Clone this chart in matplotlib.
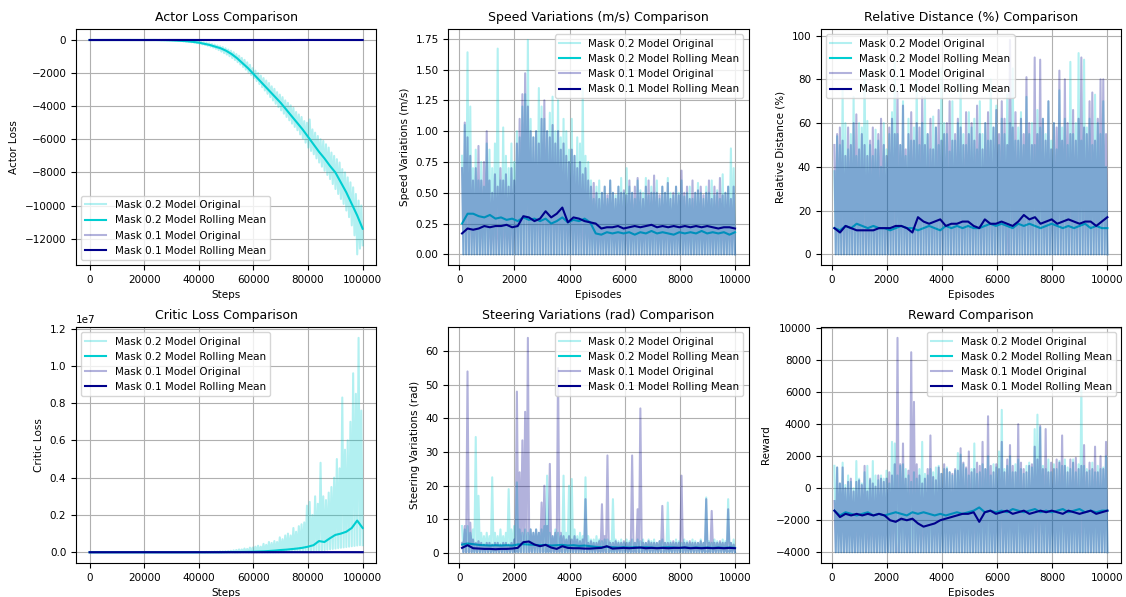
import numpy as np
import matplotlib
matplotlib.use("Agg")
import matplotlib.pyplot as plt

# colours / labels
c02 = "darkturquoise"
c01 = "darkblue"
labels = ["Mask 0.2 Model Original", "Mask 0.2 Model Rolling Mean",
          "Mask 0.1 Model Original", "Mask 0.1 Model Rolling Mean"]

# ---------------- actor loss (steps 0..100000) ----------------
# rolling mean, every 2000 steps
actor_mean_02 = [0, 0, 0, 0, 0, 0, 0, 0, 0, 0, 0, 0, 0, -5, -10, -20, -35, -55, -80, -115,
                 -160, -230, -300, -400, -500, -650, -850, -1100, -1400, -1700, -2050, -2400,
                 -2750, -3100, -3450, -3800, -4200, -4600, -5000, -5400, -5850, -6300, -6750,
                 -7150, -7600, -8000, -8600, -9200, -9900, -10600, -11400]
# raw band edges, every 1000 steps
actor_hi_02 = [0, 0, 0, 0, 0, 0, 0, 0, 0, 0, 0, 0, 0, 0, 0, 0, 0, 0, 0, 0,
               0, 0, 0, 0, 0, 0, 0, 0, 0, 0, -10, -15, -20, -25, -35, -40, -50, -60, -70, -85,
               -100, -120, -150, -170, -200, -240, -280, -330, -380, -430,
               -500, -580, -650, -740, -850, -950, -1080, -1200, -1350, -1500,
               -1700, -1850, -2000, -2150, -2300, -2450, -2600, -2800, -2950, -3150,
               -3300, -3450, -3650, -3800, -3950, -4100, -4350, -4500, -4650, -4900,
               -5000, -4800, -5400, -5600, -5800, -6000, -6100, -6300, -6500, -6800,
               -7000, -7200, -7400, -7800, -8000, -8300, -8600, -8900, -9300, -9700, -10000]
actor_lo_02 = [0, 0, 0, 0, 0, 0, 0, 0, 0, 0, 0, 0, 0, 0, 0, 0, 0, 0, 0, 0,
               0, 0, 0, 0, -5, -5, -10, -10, -15, -20, -30, -40, -50, -65, -80, -95, -115, -135, -160, -190,
               -220, -260, -300, -350, -400, -460, -530, -610, -700, -790,
               -880, -980, -1090, -1210, -1340, -1480, -1630, -1790, -1950, -2120,
               -2300, -2480, -2660, -2850, -3050, -3250, -3450, -3650, -3850, -4050,
               -4250, -4450, -4650, -4850, -5050, -5250, -5450, -5700, -5950, -6200,
               -6500, -6700, -6900, -7150, -7400, -7650, -7900, -8150, -8400, -8700,
               -9000, -9300, -9600, -9900, -10300, -10700, -11200, -11800, -12950, -12600, -12400]
actor_01 = [0, 1, 0, 2, 1, 0, 1, 0, 2, 1, 0]

# ---------------- critic loss (units of 1e6, every 1000 steps) ----------------
critic_hi_02 = [0, 0, 0, 0, 0, 0, 0, 0, 0, 0, 0, 0, 0, 0, 0, 0, 0, 0, 0, 0,
                0, 0, 0, 0, 0, 0, 0, 0, 0, 0, 0, 0, 0, 0, 0, 0, 0, 0, 0, 0,
                0.01, 0.01, 0.01, 0.02, 0.02, 0.02, 0.03, 0.03, 0.04, 0.04,
                0.05, 0.06, 0.08, 0.1, 0.12, 0.15, 0.15, 0.2, 0.18, 0.25,
                0.25, 0.3, 0.35, 0.3, 0.45, 0.4, 0.55, 0.5, 0.6, 0.55,
                0.8, 0.7, 0.9, 1.0, 0.9, 1.3, 1.1, 1.4, 1.5, 1.6,
                2.5, 2.7, 2.0, 3.0, 2.6, 4.8, 3.0, 2.8, 3.2, 3.5,
                4.0, 5.0, 4.5, 8.3, 5.5, 6.0, 7.0, 9.6, 8.5, 11.5, 7.6]
critic_lo_02 = [0, 0, 0, 0, 0, 0, 0, 0, 0, 0, 0, 0, 0, 0, 0, 0, 0, 0, 0, 0,
                0, 0, 0, 0, 0, 0, 0, 0, 0, 0, 0, 0, 0, 0, 0, 0, 0, 0, 0, 0,
                0, 0, 0, 0, 0, 0, 0, 0, 0, 0, 0, 0, 0, 0, 0, 0, 0, 0, 0, 0,
                0, 0, 0, 0, 0, 0, 0, 0, 0, 0,
                0.01, 0.01, 0.02, 0.02, 0.03, 0.03, 0.04, 0.04, 0.05, 0.05,
                0.06, 0.07, 0.08, 0.09, 0.1, 0.11, 0.12, 0.14, 0.16, 0.18,
                0.2, 0.22, 0.24, 0.26, 0.28, 0.3, 0.32, 0.34, 0.36, 0.38, 0.38]
# rolling mean, every 2000 steps
critic_mean_02 = [0, 0, 0, 0, 0, 0, 0, 0, 0, 0, 0, 0, 0, 0, 0, 0, 0, 0, 0, 0, 0, 0, 0, 0, 0,
                  0.005, 0.01, 0.01, 0.015, 0.02, 0.03, 0.04, 0.05, 0.07, 0.09, 0.12, 0.14,
                  0.17, 0.2, 0.24, 0.3, 0.38, 0.6, 0.55, 0.75, 0.93, 1.0, 1.1, 1.3, 1.7, 1.3]
critic_01 = [0, 0.001, 0.002, 0.001, 0.002, 0.003, 0.002, 0.004, 0.003, 0.005, 0.004]

# ---------------- speed variations (episodes 100..10000) ----------------
speed_pk_02 = [0.8, 1.05, 1.64, 1.2, 0.7, 0.85, 0.6, 0.75, 0.55, 0.9,
               0.85, 0.7, 0.9, 1.67, 0.6, 1.03, 0.8, 0.7, 0.9, 0.75,
               1.0, 0.95, 1.2, 1.3, 1.74, 1.1, 0.95, 1.0, 1.35, 1.2,
               1.1, 1.0, 1.15, 1.28, 1.0, 1.25, 0.95, 1.1, 1.0, 0.85,
               1.1, 0.8, 0.95, 0.9, 1.35, 0.8, 0.75, 0.6, 0.45, 0.55,
               0.6, 0.5, 0.55, 0.45, 0.6, 0.5, 0.48, 0.55, 0.62, 0.5,
               0.7, 0.55, 0.5, 0.45, 0.6, 0.52, 0.5, 0.62, 0.48, 0.55,
               0.5, 0.6, 0.45, 0.55, 0.5, 0.62, 0.5, 0.48, 0.55, 0.5,
               0.6, 0.47, 0.5, 0.55, 0.45, 0.5, 0.58, 0.5, 0.45, 0.55,
               0.5, 0.6, 0.48, 0.52, 0.45, 0.65, 0.5, 0.55, 0.86, 0.7]
speed_pk_01 = [0.7, 1.07, 0.95, 0.8, 0.6, 0.7, 0.88, 0.6, 0.75, 1.0,
               0.6, 0.5, 0.65, 0.55, 0.7, 0.6, 0.65, 0.55, 0.7, 0.6,
               0.9, 1.1, 1.3, 1.47, 1.2, 1.0, 0.95, 1.0, 0.9, 1.1,
               1.25, 1.0, 0.95, 1.05, 0.9, 1.0, 0.85, 0.9, 0.8, 0.75,
               0.85, 0.8, 0.7, 0.75, 0.65, 0.7, 0.6, 0.55, 0.58, 0.5,
               0.45, 0.5, 0.55, 0.48, 0.6, 0.5, 0.45, 0.55, 0.5, 0.52,
               0.48, 0.6, 0.5, 0.55, 0.62, 0.5, 0.45, 0.55, 0.6, 0.5,
               0.64, 0.5, 0.48, 0.55, 0.5, 0.58, 0.45, 0.5, 0.55, 0.48,
               0.68, 0.5, 0.55, 0.45, 0.6, 0.5, 0.52, 0.55, 0.48, 0.5,
               0.6, 0.45, 0.55, 0.5, 0.62, 0.48, 0.5, 0.55, 0.45, 0.55]
speed_floor = 0.0
speed_rm_02 = [0.25, 0.33, 0.33, 0.31, 0.30, 0.32, 0.29, 0.30, 0.28, 0.29,
               0.27, 0.30, 0.28, 0.29, 0.27, 0.29, 0.25, 0.27, 0.30, 0.26,
               0.28, 0.27, 0.29, 0.26, 0.17, 0.16, 0.18, 0.17, 0.18, 0.17,
               0.18, 0.16, 0.18, 0.17, 0.19, 0.17, 0.18, 0.17, 0.16, 0.18,
               0.17, 0.18, 0.17, 0.19, 0.17, 0.18, 0.17, 0.18, 0.16, 0.18]
speed_rm_01 = [0.17, 0.21, 0.20, 0.21, 0.23, 0.22, 0.23, 0.23, 0.24, 0.22,
               0.23, 0.31, 0.30, 0.27, 0.29, 0.35, 0.30, 0.33, 0.38, 0.26,
               0.30, 0.29, 0.27, 0.26, 0.25, 0.21, 0.22, 0.22, 0.23, 0.21,
               0.22, 0.23, 0.22, 0.23, 0.24, 0.22, 0.23, 0.22, 0.23, 0.22,
               0.23, 0.22, 0.23, 0.22, 0.23, 0.22, 0.21, 0.22, 0.22, 0.21]

# ---------------- relative distance ----------------
dist_pk_02 = [38, 54, 50, 75, 60, 48, 55, 72, 45, 60, 58, 85, 61, 50, 45, 57, 52, 40, 60, 48,
              55, 65, 88, 55, 50, 70, 45, 62, 52, 58, 80, 50, 60, 72, 55, 48, 63, 58, 50, 85,
              60, 55, 47, 70, 52, 60, 78, 55, 50, 65, 58, 62, 48, 70, 55, 60, 52, 80, 58, 68,
              50, 62, 55, 73, 60, 85, 52, 58, 65, 50, 72, 55, 60, 50, 66, 58, 62, 55, 70, 52,
              60, 48, 75, 58, 62, 50, 88, 55, 60, 92, 52, 89, 58, 62, 50, 73, 60, 55, 70, 40]
dist_pk_01 = [50, 55, 58, 52, 45, 58, 50, 60, 64, 48, 55, 50, 45, 52, 58, 48, 55, 62, 50, 45,
              58, 62, 55, 74, 50, 68, 48, 55, 65, 52, 60, 58, 72, 50, 55, 62, 48, 58, 66, 52,
              55, 60, 70, 52, 55, 62, 58, 50, 65, 55, 60, 52, 68, 55, 48, 60, 65, 52, 58, 66,
              55, 70, 62, 50, 98, 58, 65, 52, 62, 55, 81, 60, 50, 90, 55, 89, 62, 52, 70, 48,
              60, 58, 84, 52, 80, 60, 55, 66, 52, 62, 90, 58, 55, 70, 74, 52, 62, 80, 80, 55]
dist_floor = 0.0
dist_rm_02 = [12, 11, 13, 12, 14, 13, 12, 13, 12, 12, 11, 12, 13, 12, 12, 11, 12, 13, 12, 11,
              13, 12, 13, 12, 13, 12, 12, 13, 14, 13, 14, 13, 12, 14, 13, 14, 13, 12, 13, 14,
              13, 12, 13, 12, 13, 14, 12, 13, 12, 12]
dist_rm_01 = [12, 10, 13, 12, 11, 11, 11, 11, 12, 12, 12, 13, 13, 12, 10, 17, 15, 14, 15, 16,
              13, 14, 14, 15, 15, 13, 12, 16, 14, 14, 15, 14, 13, 15, 18, 16, 17, 14, 15, 16,
              14, 15, 16, 15, 14, 15, 15, 13, 15, 17]

# ---------------- steering variations ----------------
steer_pk_02 = [8, 7, 8, 6, 7, 34.5, 17, 6, 5, 6, 5, 22.5, 6, 5, 7, 5, 6, 19, 7, 8,
               21, 7, 6, 7, 6, 7, 6, 7, 6, 7, 8, 23, 6, 5, 7, 6, 5, 23, 6, 20,
               22, 7, 5, 6, 5, 22.5, 5, 4, 4, 5, 4, 3.5, 4, 4, 3.5, 16, 4, 3.5, 4, 3,
               4, 3.5, 4, 3, 4, 3.5, 4, 3, 4, 3.5, 4, 3, 3.5, 4, 3, 15, 3.5, 3, 4, 3.5,
               3, 4, 3.5, 3, 4, 3.5, 3, 4, 3, 16.5, 3.5, 3, 4, 3.5, 3, 4, 3.5, 16, 3, 4]
steer_pk_01 = [3, 8, 54, 9, 4, 3, 3.5, 3, 2.5, 3, 3, 2.5, 3, 3, 2.5, 3, 3, 2.5, 3, 4,
               48, 24, 33.5, 42, 64, 7, 6, 7, 6, 15, 20, 8, 26.5, 5, 6, 55, 6, 5, 4, 5,
               4, 5, 4, 3.5, 4, 16, 3, 3.5, 3, 3, 3.5, 14.5, 5, 29, 3, 3, 3.5, 3, 3, 3.5,
               3, 3, 29, 3, 13, 43, 3, 3, 3.5, 3, 3, 3, 3.5, 14, 3, 3, 3, 3.5, 3, 3,
               23, 3, 3, 3.5, 3, 3, 3, 3.5, 3, 16, 3, 12.5, 3, 3, 3.5, 3, 3, 13, 3, 2.5]
steer_floor = 0.2
steer_rm_02 = [2.5, 2.8, 2.6, 2.4, 2.3, 2.2, 2.3, 2.2, 2.3, 2.2, 2.5, 2.6, 2.5, 2.4, 2.3,
               2.4, 2.2, 2.3, 2.4, 2.2, 2.3, 2.1, 2.2, 2.0, 1.8, 1.7, 1.8, 1.7, 1.6, 1.7,
               1.6, 1.7, 1.6, 1.7, 1.6, 1.5, 1.6, 1.7, 1.6, 1.5, 1.6, 1.5, 1.6, 1.5, 1.6,
               1.5, 1.6, 1.5, 1.6, 1.5]
steer_rm_01 = [1.5, 2.3, 1.4, 1.3, 1.2, 1.2, 1.1, 1.2, 1.2, 1.3, 1.5, 3.2, 3.4, 2.5, 2.0,
               2.4, 1.6, 1.2, 2.0, 1.5, 1.4, 1.4, 1.3, 1.3, 1.4, 1.5, 2.0, 1.3, 1.4, 1.5,
               1.4, 1.5, 1.6, 1.4, 1.5, 1.4, 1.5, 1.4, 1.5, 1.5, 1.6, 1.4, 1.5, 1.4, 1.5,
               1.4, 1.5, 1.4, 1.5, 1.4]

# ---------------- reward ----------------
reward_pk_02 = [1400, 1300, 300, 1600, 200, 800, 400, 0, 1700, 600,
                300, 1000, 1400, 500, 1700, 800, 500, 800, 600, 1100,
                300, 2900, 2800, 800, 1400, 1500, 1200, 800, 400, 1000,
                600, 1200, 2900, 900, 800, 1200, 1000, 1300, 1400, 900,
                1200, 1300, 1000, 800, 1100, 2200, 2100, 1500, 1200, 800,
                1200, 2800, 900, 1000, 1500, 1200, 2000, 800, 1500, 1300,
                2300, 4900, 1200, 1400, 2000, 1000, 1500, 1800, 1200, 900,
                1400, 1600, 1300, 3700, 4600, 3800, 1400, 1200, 1800, 1000,
                1500, 1200, 1700, 1400, 1800, 1300, 1200, 1800, 1000, 1500,
                6700, 1400, 1200, 1100, 1600, 1000, 1400, 1200, 1300, 2000]
reward_pk_01 = [-800, 1300, 300, 1300, 0, 400, 600, -200, 400, 500,
                200, 1400, -200, 600, 300, 100, 800, 600, 400, 600,
                1000, 800, 1500, 9400, 1500, 2800, 600, 1100, 8500, 5400,
                1500, 800, 300, 600, 1200, 3300, 700, 500, 1300, 900,
                1500, 1200, 1000, 900, 1200, 1100, 2500, 1600, 1300, 2300,
                1000, 1200, 1600, 1400, 2900, 1200, 4500, 1400, 1000, 1500,
                1200, 2900, 1000, 1800, 2700, 1400, 1000, 4000, 1600, 1200,
                1000, 1400, 1500, 2600, 1800, 3900, 1200, 3700, 1000, 1600,
                1200, 1800, 1600, 3300, 1400, 1000, 1800, 1600, 1900, 1200,
                1400, 2700, 1000, 1600, 1200, 2600, 1000, 2000, 1200, 2900]
reward_floor = -4000
reward_rm_02 = [-1400, -1700, -1500, -1600, -1700, -1600, -1500, -1700, -1600, -1700,
                -1600, -1500, -1600, -1700, -1500, -1600, -1500, -1600, -1700, -1600,
                -1700, -1600, -1500, -1600, -1500, -1400, -1200, -1500, -1400, -1500,
                -1400, -1500, -1300, -1400, -1500, -1400, -1300, -1500, -1400, -1500,
                -1400, -1300, -1500, -1400, -1300, -1500, -1400, -1500, -1400, -1400]
reward_rm_01 = [-1400, -1800, -1600, -1700, -1600, -1700, -1600, -1700, -1600, -1700,
                -2000, -2100, -1900, -2000, -1900, -2200, -2400, -2300, -2200, -2000,
                -1900, -1800, -1700, -1600, -1600, -1500, -2100, -1500, -1400, -1600,
                -1500, -1400, -1600, -1500, -1400, -1600, -1500, -1400, -1500, -1400,
                -1500, -1600, -1400, -1500, -1600, -1500, -1400, -1600, -1500, -1400]


def zigzag(x0, x1, top, bottom):
    # alternate read peak values with the floor / lower edge
    top = np.asarray(top, dtype=float)
    y = np.empty(2 * len(top))
    y[0::2] = top
    y[1::2] = bottom
    return np.linspace(x0, x1, len(y)), y


def draw_panel(ax, x0, x1, o02, r02, o01, r01, title, xlabel, ylabel, loc):
    ax.plot(*o02, color=c02, alpha=0.3, lw=1.5, label=labels[0])
    ax.plot(np.linspace(x0, x1, len(r02)), r02, color=c02, lw=1.5, label=labels[1])
    ax.plot(*o01, color=c01, alpha=0.3, lw=1.5, label=labels[2])
    ax.plot(np.linspace(x0, x1, len(r01)), r01, color=c01, lw=1.5, label=labels[3])
    ax.set_title(title)
    ax.set_xlabel(xlabel)
    ax.set_ylabel(ylabel)
    ax.legend(loc=loc)
    ax.grid(True)


plt.rcParams.update({"font.size": 7.5, "axes.titlesize": 9})
fig, axes = plt.subplots(2, 3, figsize=(11.26, 5.97), dpi=100)
fig.subplots_adjust(left=0.0675, right=0.9956, bottom=0.057, top=0.951, wspace=0.24, hspace=0.263)

E0, E1 = 100, 10000
S0, S1 = 0, 100000

draw_panel(axes[0, 0], S0, S1,
           zigzag(S0, S1, actor_hi_02, actor_lo_02), actor_mean_02,
           (np.linspace(S0, S1, len(actor_01)), actor_01), actor_01,
           "Actor Loss Comparison", "Steps", "Actor Loss", "lower left")

draw_panel(axes[0, 1], E0, E1,
           zigzag(E0, E1, speed_pk_02, speed_floor), speed_rm_02,
           zigzag(E0, E1, speed_pk_01, speed_floor), speed_rm_01,
           "Speed Variations (m/s) Comparison", "Episodes", "Speed Variations (m/s)", "upper right")

draw_panel(axes[0, 2], E0, E1,
           zigzag(E0, E1, dist_pk_02, dist_floor), dist_rm_02,
           zigzag(E0, E1, dist_pk_01, dist_floor), dist_rm_01,
           "Relative Distance (%) Comparison", "Episodes", "Relative Distance (%)", "upper left")

cx, cy = zigzag(S0, S1, critic_hi_02, np.asarray(critic_lo_02))
draw_panel(axes[1, 0], S0, S1,
           (cx, cy * 1e6), np.asarray(critic_mean_02) * 1e6,
           (np.linspace(S0, S1, len(critic_01)), np.asarray(critic_01) * 1e6),
           np.asarray(critic_01) * 1e6,
           "Critic Loss Comparison", "Steps", "Critic Loss", "upper left")

draw_panel(axes[1, 1], E0, E1,
           zigzag(E0, E1, steer_pk_02, steer_floor), steer_rm_02,
           zigzag(E0, E1, steer_pk_01, steer_floor), steer_rm_01,
           "Steering Variations (rad) Comparison", "Episodes", "Steering Variations (rad)", "upper right")

draw_panel(axes[1, 2], E0, E1,
           zigzag(E0, E1, reward_pk_02, reward_floor), reward_rm_02,
           zigzag(E0, E1, reward_pk_01, reward_floor), reward_rm_01,
           "Reward Comparison", "Episodes", "Reward", "upper right")

fig.savefig("out.png", dpi=100)
